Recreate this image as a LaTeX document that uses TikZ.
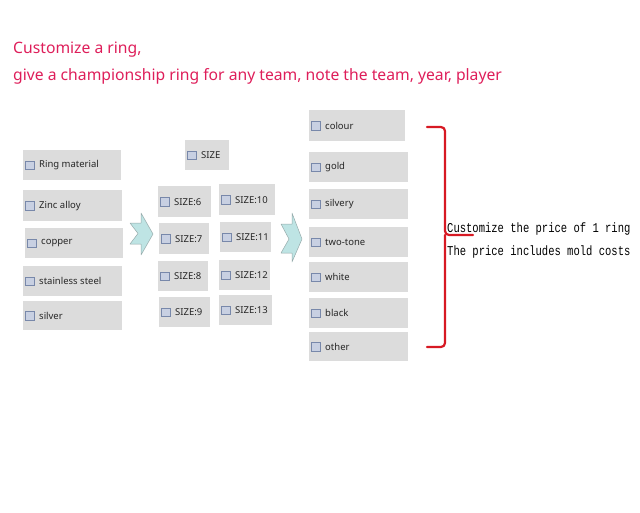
\documentclass[tikz,border=0pt]{standalone}
\usepackage{fontspec}
\setmainfont{Noto Sans}
\newfontfamily\gothic[FakeStretch=0.78]{Liberation Mono}
\definecolor{titlered}{RGB}{222,30,90}
\definecolor{boxgray}{RGB}{220,220,220}
\definecolor{chkfill}{RGB}{200,208,226}
\definecolor{chkedge}{RGB}{120,136,170}
\definecolor{arrowfill}{RGB}{190,228,228}
\definecolor{arrowedge}{RGB}{150,170,170}
\definecolor{bracered}{RGB}{215,25,35}
\tikzset{
  optbox/.style={fill=boxgray, draw=none, inner sep=0pt, anchor=north west},
  chk/.style={fill=chkfill, draw=chkedge, line width=0.6pt, minimum size=8.5pt, inner sep=0pt, anchor=west},
  lbl/.style={anchor=west, inner sep=0pt, font=\fontsize{9.5}{10}\selectfont, text=black!85},
  title/.style={anchor=base west, inner sep=0pt, text=titlered, font=\fontsize{15.7}{17}\selectfont},
  note/.style={anchor=base west, inner sep=0pt, text=black, font=\gothic\fontsize{13.5}{15}\selectfont},
  chev/.style={fill=arrowfill, draw=arrowedge, line width=0.5pt, line join=round},
  brace/.style={draw=bracered, line width=2.2pt, line cap=round, rounded corners=4pt}
}
\newcommand{\optitem}[6]{%
  \node[optbox, minimum width=#4-#2, minimum height=#5-#3] (#1) at (#2,#3) {};
  \node[chk] (#1-c) at ([xshift=2]#1.west) {};
  \node[lbl] (#1-t) at ([xshift=16]#1.west) {#6};
}
\begin{document}
\begin{tikzpicture}[x=1pt,y=-1pt]
\useasboundingbox (0,0) rectangle (640,512);
% titles
\node[title] (t1) at (13,53.5) {Customize a ring,};
\node[title] (t2) at (13,80) {give a championship ring for any team, note the team, year, player};
% material column
\optitem{rm}{23}{150}{121}{180}{Ring material}
\optitem{zn}{23}{190}{122}{221}{Zinc alloy}
\optitem{cu}{25}{228}{123}{258}{copper}
\optitem{ss}{23}{266}{122}{296}{stainless steel}
\optitem{ag}{23}{301}{122}{330}{silver}
% size column
\optitem{sz}{185}{140}{229}{170}{SIZE}
\optitem{s6}{158}{186}{211}{217}{SIZE:6}
\optitem{s10}{219}{184}{275}{215}{SIZE:10}
\optitem{s7}{159}{223}{209}{254}{SIZE:7}
\optitem{s11}{220}{222}{271}{252}{SIZE:11}
\optitem{s8}{158}{261}{208}{291}{SIZE:8}
\optitem{s12}{219}{260}{270}{290}{SIZE:12}
\optitem{s9}{159}{297}{210}{327}{SIZE:9}
\optitem{s13}{219}{295}{272}{325}{SIZE:13}
% colour column
\optitem{co}{309}{110}{405}{141}{colour}
\optitem{go}{309}{152}{408}{182}{gold}
\optitem{sv}{309}{189}{408}{219}{silvery}
\optitem{tt}{309}{227}{408}{257}{two-tone}
\optitem{wh}{309}{262}{408}{292}{white}
\optitem{bk}{309}{298}{408}{328}{black}
\optitem{ot}{309}{332}{408}{361}{other}
% arrows
\draw[chev] (130,223) -- (141,223) -- (141,213) -- (153,234) -- (141,255) -- (141,244) -- (130,244) -- (138,233.5) -- cycle;
\draw[chev] (281,224) -- (292,224) -- (292,213) -- (302,239) -- (292,262) -- (292,253) -- (281,253) -- (289,239) -- cycle;
% brace
\coordinate (bt) at (427,127);
\coordinate (bb) at (427,347);
\coordinate (bm) at (473,235);
\draw[brace] (bt) -- (445,127) -- (445,235) -- (bm);
\draw[brace] (bb) -- (445,347) -- (445,235);
% notes
\node[note] (n1) at (447,232) {Customize the price of 1 ring};
\node[note] (n2) at (447,255) {The price includes mold costs};
\end{tikzpicture}
\end{document}
